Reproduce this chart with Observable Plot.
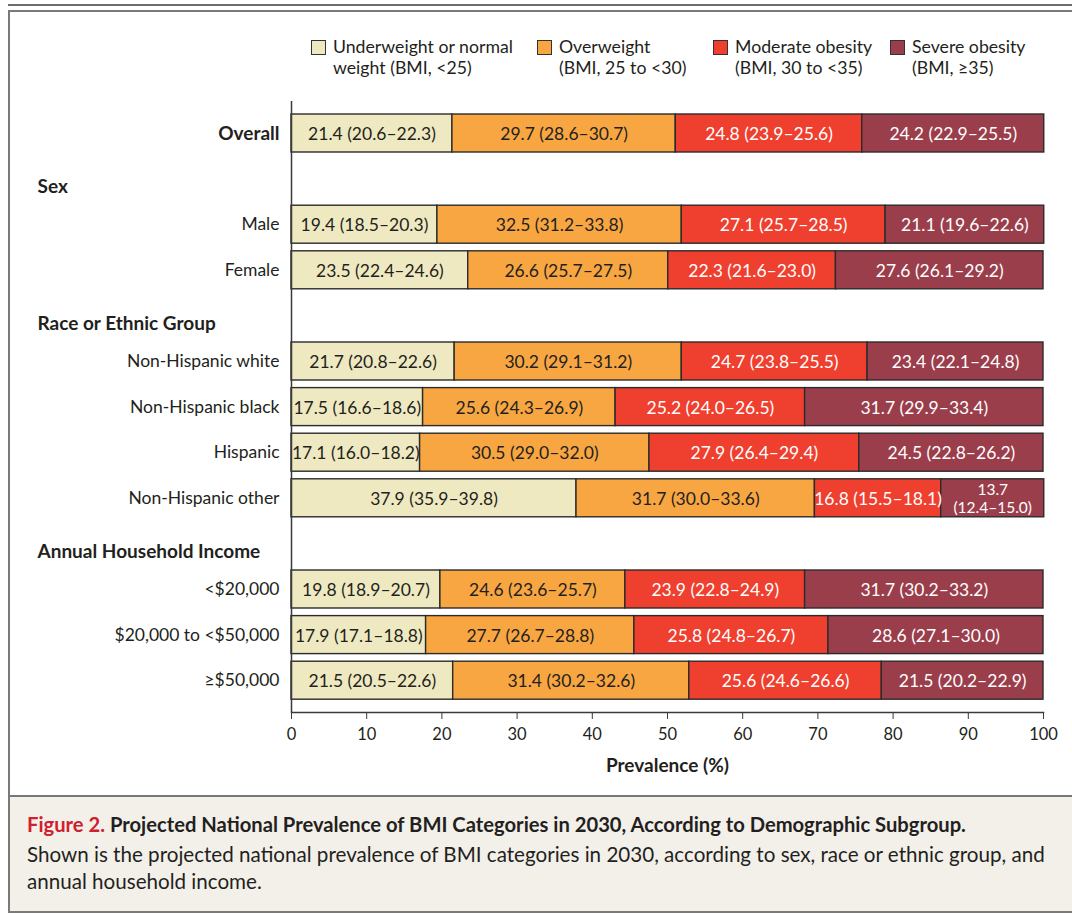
<!DOCTYPE html>
<html><head><meta charset="utf-8">
<script src="https://cdn.jsdelivr.net/npm/d3@7"></script>
<script src="https://cdn.jsdelivr.net/npm/@observablehq/plot@0.6"></script>
<style>
body{margin:0;width:1072px;height:914px;position:relative;overflow:hidden;background:#fff;font-family:Lato,sans-serif;color:#231f20}
#topline{position:absolute;left:8px;right:0;top:4px;height:2px;background:#6d6d6d}
#box{position:absolute;left:8px;top:10px;width:1090px;height:903px;border:2px solid #7a7a7a;box-sizing:border-box}
#legend{position:absolute;top:36px;left:0;width:1072px;height:50px}
.item{position:absolute;top:0;font-size:17.7px;line-height:21px}
.sw{position:absolute;top:4px;width:13px;height:13px;border:1px solid #333}
.lt{position:absolute;white-space:nowrap}
#chart{position:absolute;left:0;top:90px}
#caption{position:absolute;left:10px;top:795px;width:1080px;height:116px;border-top:2px solid #777;background:#f3f0ea;box-sizing:border-box;padding:14px 0 0 17px}
#caption .t{font-size:20.2px;font-weight:bold;line-height:27px;margin:0}
#caption .t span{color:#d0202e}
#caption .b{font-size:20.6px;line-height:27px;margin:3px 0 0 0;width:1036px}
</style>
</head><body>
<div id="topline"></div>
<div id="box"></div>
<div id="legend"></div>
<div id="chart"></div>
<div id="caption">
<p class="t"><span>Figure 2.</span> Projected National Prevalence of BMI Categories in 2030, According to Demographic Subgroup.</p>
<p class="b">Shown is the projected national prevalence of BMI categories in 2030, according to sex, race or ethnic group, and annual household income.</p>
</div>
<script>
// ---- data ----
const categories = ["Underweight or normal weight (BMI, <25)", "Overweight (BMI, 25 to <30)", "Moderate obesity (BMI, 30 to <35)", "Severe obesity (BMI, ≥35)"];
const legendLine1 = ["Underweight or normal", "Overweight", "Moderate obesity", "Severe obesity"];
const legendLine2 = ["weight (BMI, <25)", "(BMI, 25 to <30)", "(BMI, 30 to <35)", "(BMI, ≥35)"];
const colors = ["#efe9c1", "#f8a641", "#ee3f2f", "#9b3e4c"];
const labelColors = ["#231f20", "#231f20", "#ffffff", "#ffffff"];

const rowOrder = ["Overall", "Sex", "Male", "Female", "Race or Ethnic Group", "Non-Hispanic white", "Non-Hispanic black", "Hispanic", "Non-Hispanic other", "Annual Household Income", "<$20,000", "$20,000 to <$50,000", "≥$50,000"];
const headers = ["Sex", "Race or Ethnic Group", "Annual Household Income"];
const boldRows = ["Overall"];
const rows = ["Overall", "Male", "Female", "Non-Hispanic white", "Non-Hispanic black", "Hispanic", "Non-Hispanic other", "<$20,000", "$20,000 to <$50,000", "≥$50,000"];

const underweight   = [21.4, 19.4, 23.5, 21.7, 17.5, 17.1, 37.9, 19.8, 17.9, 21.5];
const underweightCI = ["20.6–22.3", "18.5–20.3", "22.4–24.6", "20.8–22.6", "16.6–18.6", "16.0–18.2", "35.9–39.8", "18.9–20.7", "17.1–18.8", "20.5–22.6"];
const overweight    = [29.7, 32.5, 26.6, 30.2, 25.6, 30.5, 31.7, 24.6, 27.7, 31.4];
const overweightCI  = ["28.6–30.7", "31.2–33.8", "25.7–27.5", "29.1–31.2", "24.3–26.9", "29.0–32.0", "30.0–33.6", "23.6–25.7", "26.7–28.8", "30.2–32.6"];
const moderate      = [24.8, 27.1, 22.3, 24.7, 25.2, 27.9, 16.8, 23.9, 25.8, 25.6];
const moderateCI    = ["23.9–25.6", "25.7–28.5", "21.6–23.0", "23.8–25.5", "24.0–26.5", "26.4–29.4", "15.5–18.1", "22.8–24.9", "24.8–26.7", "24.6–26.6"];
const severe        = [24.2, 21.1, 27.6, 23.4, 31.7, 24.5, 13.7, 31.7, 28.6, 21.5];
const severeCI      = ["22.9–25.5", "19.6–22.6", "26.1–29.2", "22.1–24.8", "29.9–33.4", "22.8–26.2", "12.4–15.0", "30.2–33.2", "27.1–30.0", "20.2–22.9"];
const xTicks = [0, 10, 20, 30, 40, 50, 60, 70, 80, 90, 100];
const xLabel = "Prevalence (%)";

// ---- tidy table ----
const series = [underweight, overweight, moderate, severe];
const seriesCI = [underweightCI, overweightCI, moderateCI, severeCI];
const tidy = [];
rows.forEach((r, i) => {
  categories.forEach((c, k) => {
    const v = series[k][i];
    const wrap = v < 15;
    tidy.push({row: r, cat: c, k, value: v, wrap, label: `${v.toFixed(1)}${wrap ? "\n" : " "}(${seriesCI[k][i]})`});
  });
});

// ---- legend ----
const legendLeft = [311, 537, 713, 890];
const legend = document.getElementById("legend");
categories.forEach((c, k) => {
  const it = document.createElement("div");
  it.className = "item";
  it.style.left = legendLeft[k] + "px";
  it.innerHTML = `<div class="sw" style="background:${colors[k]}"></div><div class="lt" style="left:22px">${legendLine1[k].replace(/</g,"&lt;")}<br>${legendLine2[k].replace(/</g,"&lt;")}</div>`;
  legend.appendChild(it);
});

// ---- chart ----
const stackOpts = {y: "row", x: "value"};
const labelSize = d => d.wrap ? 15.5 : 17.5;
const chart = Plot.plot({
  width: 1072,
  height: 700,
  marginLeft: 291,
  marginRight: 29,
  marginTop: 11,
  marginBottom: 78,
  style: {background: "transparent", fontFamily: "Lato, sans-serif", fontSize: "16px", color: "#231f20"},
  x: {domain: [0, 100], label: null, axis: null},
  y: {domain: rowOrder, paddingInner: 0.167, paddingOuter: 0.0835, insetTop: 9.2, insetBottom: 9, round: false, axis: null},
  color: {domain: categories, range: colors},
  marks: [
    Plot.barX(tidy, Plot.stackX({...stackOpts, fill: "cat", stroke: "#2b2b2b", strokeWidth: 1.4})),
    Plot.text(tidy, Plot.stackX({...stackOpts, text: d => labelColors[d.k] === "#ffffff" ? null : d.label, fill: "#231f20", fontSize: labelSize, lineHeight: 1.15})),
    Plot.text(tidy, Plot.stackX({...stackOpts, text: d => labelColors[d.k] === "#ffffff" ? d.label : null, fill: "#ffffff", fontSize: labelSize, lineHeight: 1.15})),
    Plot.text(rows.filter(r => !boldRows.includes(r)), {y: d => d, text: d => d, frameAnchor: "left", textAnchor: "end", dx: -12, fontSize: 17.5}),
    Plot.text(boldRows, {y: d => d, text: d => d, frameAnchor: "left", textAnchor: "end", dx: -12, fontSize: 19, fontWeight: "bold"}),
    Plot.text(headers, {y: d => d, text: d => d, frameAnchor: "left", textAnchor: "start", dx: -254, dy: 8, fontSize: 19, fontWeight: "bold"}),
    Plot.ruleX([0], {stroke: "#3a3a3a", strokeWidth: 1.5}),
    Plot.frame({anchor: "bottom", stroke: "#3a3a3a", strokeWidth: 1.5}),
    Plot.axisX({ticks: xTicks, tickSize: 7, tickPadding: 9, label: null, fontSize: 16.5, stroke: "#3a3a3a"}),
    Plot.text([xLabel], {text: d => d, frameAnchor: "bottom", dy: 59, fontSize: 19, fontWeight: "bold"})
  ]
});
document.getElementById("chart").appendChild(chart);
</script>
</body></html>
